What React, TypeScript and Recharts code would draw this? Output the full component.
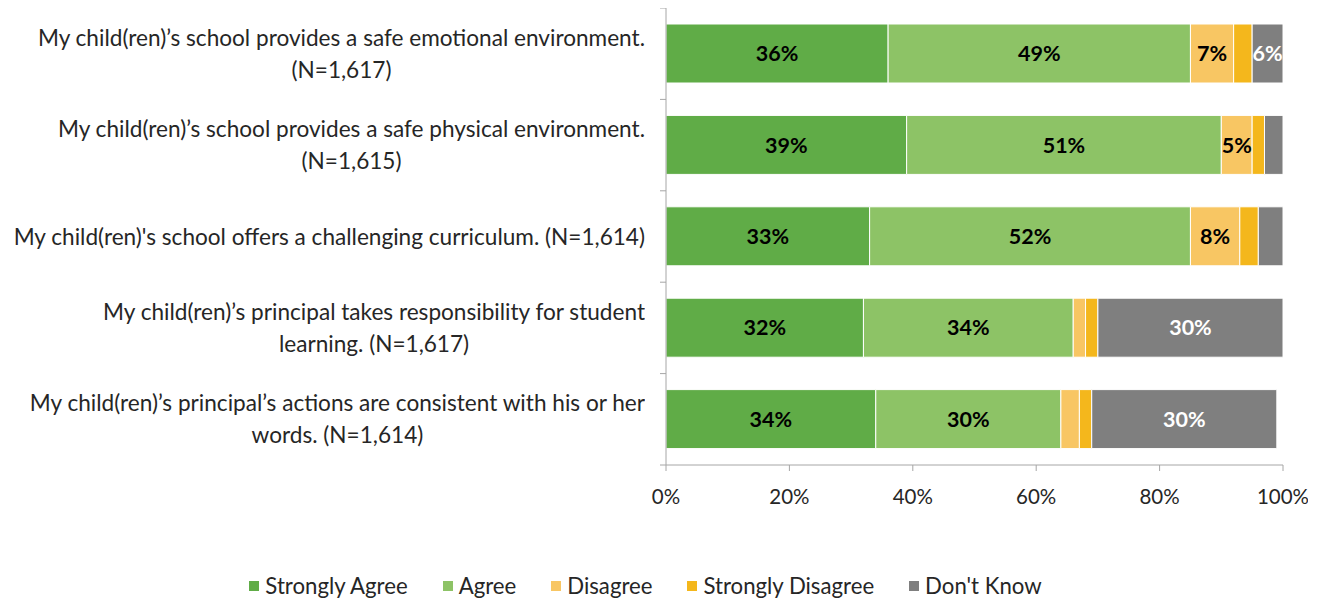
import React from "react";
import { BarChart, Bar, XAxis, YAxis, LabelList, Legend } from "recharts";

const categories = [
  "My child(ren)’s school provides a safe emotional environment.\n(N=1,617)",
  "My child(ren)’s school provides a safe physical environment.\n(N=1,615)",
  "My child(ren)'s school offers a challenging curriculum. (N=1,614)",
  "My child(ren)’s principal takes responsibility for student\nlearning. (N=1,617)",
  "My child(ren)’s principal’s actions are consistent with his or her\nwords. (N=1,614)",
];

const stronglyAgree = [36, 39, 33, 32, 34];
const agree = [49, 51, 52, 34, 30];
const disagree = [7, 5, 8, 2, 3];
const stronglyDisagree = [3, 2, 3, 2, 2];
const dontKnow = [6, 3, 4, 30, 30];

const seriesNames = ["Strongly Agree", "Agree", "Disagree", "Strongly Disagree", "Don't Know"];
const seriesKeys = ["sa", "a", "d", "sd", "dk"];
const seriesColors = ["#60ac47", "#8dc366", "#f8c663", "#f4b71c", "#7f7f7f"];
const labelColors = ["#000", "#000", "#000", "#000", "#fff"];
const xTicks = [0, 20, 40, 60, 80, 100];

const data = categories.map((name, i) => ({
  name,
  sa: stronglyAgree[i],
  a: agree[i],
  d: disagree[i],
  sd: stronglyDisagree[i],
  dk: dontKnow[i],
}));

const FONT = "Lato, 'Open Sans', sans-serif";
const AXIS_COLOR = "#a6a6a6";
const CHART_W = 1300;
const CHART_H = 590;
const MARGIN = { top: 0, right: 25, bottom: 0, left: 0 };
const Y_W = 658;
const X_H = 40;
const LEGEND_H = 93;
const PLOT_H = CHART_H - MARGIN.top - MARGIN.bottom - X_H - LEGEND_H;
const BAND = PLOT_H / categories.length;

const YTick = (props: any) => {
  const { x, y, payload, index } = props;
  return (
    <g>
      <line x1={x - 6} x2={x} y1={y - BAND / 2} y2={y - BAND / 2} stroke={AXIS_COLOR} />
      {index === categories.length - 1 && (
        <line x1={x - 6} x2={x} y1={y + BAND / 2} y2={y + BAND / 2} stroke={AXIS_COLOR} />
      )}
      <foreignObject x={x - 21 - 656} y={y - 45} width={656} height={90}>
        <div
          style={{
            display: "flex",
            height: "100%",
            alignItems: "center",
            justifyContent: "flex-end",
          }}
        >
          <div
            style={{
              textAlign: "center",
              whiteSpace: "pre",
              fontFamily: FONT,
              fontSize: 22.6,
              lineHeight: "32px",
              color: "#262626",
            }}
          >
            {payload.value}
          </div>
        </div>
      </foreignObject>
    </g>
  );
};

const LegendContent = () => (
  <div
    style={{
      height: LEGEND_H,
      display: "flex",
      alignItems: "flex-end",
      justifyContent: "center",
      fontFamily: FONT,
      fontSize: 22.2,
      color: "#262626",
      lineHeight: "24px",
    }}
  >
    {seriesNames.map((n, i) => (
      <div key={n} style={{ display: "flex", alignItems: "center", marginLeft: i === 0 ? 0 : 35 }}>
        <span
          style={{
            display: "inline-block",
            width: 10,
            height: 10,
            background: seriesColors[i],
            marginRight: 6,
          }}
        />
        <span>{n}</span>
      </div>
    ))}
  </div>
);

export default function App() {
  return (
    <BarChart
      width={CHART_W}
      height={CHART_H}
      data={data}
      layout="vertical"
      margin={MARGIN}
      barSize={59}
    >
      <XAxis
        type="number"
        domain={[0, 100]}
        allowDataOverflow
        ticks={xTicks}
        tickFormatter={(v: number) => `${v}%`}
        height={X_H}
        tickSize={6}
        tickMargin={18}
        stroke={AXIS_COLOR}
        tick={{ fill: "#262626", fontFamily: FONT, fontSize: 20.5 }}
      />
      <YAxis
        type="category"
        dataKey="name"
        width={Y_W}
        tickLine={false}
        tickSize={0}
        tickMargin={0}
        stroke={AXIS_COLOR}
        tick={<YTick />}
        interval={0}
      />
      <Legend verticalAlign="bottom" content={<LegendContent />} />
      {seriesKeys.map((k, i) => (
        <Bar
          key={k}
          dataKey={k}
          name={seriesNames[i]}
          stackId="s"
          fill={seriesColors[i]}
          stroke="#ffffff"
          strokeWidth={1}
          isAnimationActive={false}
        >
          <LabelList
            dataKey={k}
            position="center"
            formatter={(v: any) => (Number(v) >= 5 ? `${v}%` : "")}
            fill={labelColors[i]}
            fontFamily={FONT}
            fontSize={21.5}
            fontWeight="bold"
          />
        </Bar>
      ))}
    </BarChart>
  );
}
